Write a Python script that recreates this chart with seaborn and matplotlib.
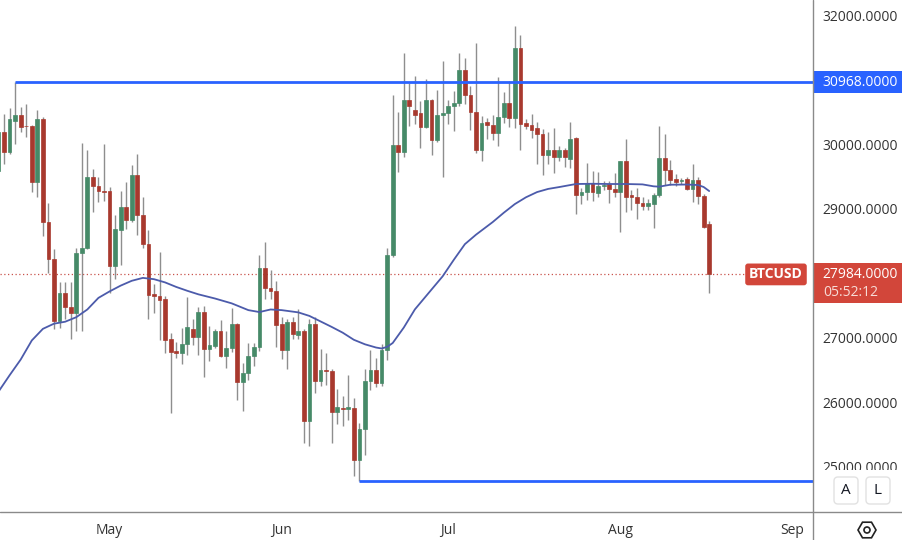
import matplotlib
matplotlib.use("Agg")
import matplotlib.pyplot as plt
import seaborn as sns
import numpy as np
import pandas as pd
from matplotlib.patches import Rectangle, FancyBboxPatch, RegularPolygon, Circle
from matplotlib.transforms import blended_transform_factory

# daily BTCUSD candles, 11 Apr - 17 Aug 2023
start = "2023-04-11"
dates = pd.date_range(start, "2023-08-17", freq="D")

opens = [29590, 30190, 29880, 30370, 30459, 30290, 30280, 29410, 30400, 28800,
         28230, 27260, 27690, 27480, 27380, 28310, 28400, 29500, 29360, 29275,
         # May
         29270, 28120, 28675, 29033, 28825, 29526, 28900, 28460, 27685, 27650,
         27600, 26980, 26800, 26760, 26900, 27145, 27015, 27400, 26820, 26870,
         27100, 26720, 26840, 27220, 26310, 26460, 26715, 26860, 28090, 27780,
         27720,
         # Jun
         27220, 26815, 27240, 27050, 27110, 25710, 27210, 26330, 26500, 26490,
         25850, 25915, 25900, 25913, 25100, 25580, 26330, 26500, 26300, 26810,
         28290, 29995, 29890, 30695, 30540, 30490, 30270, 30695, 30075, 30450,
         # Jul
         30480, 30590, 30645, 31160, 30770, 30510, 29910, 30350, 30300, 30170,
         30430, 30640, 30410, 31500, 30330, 30300, 30250, 30160, 29830, 29910,
         29810, 29910, 29780, 30100, 29215, 29260, 29400, 29245, 29350, 29385,
         29310,
         # Aug
         29260, 29740, 29215, 29190, 29095, 29040, 29075, 29215, 29790, 29600,
         29460, 29430, 29460, 29315, 29445, 29200, 28770]
highs = [30500, 30475, 30560, 30968, 30580, 30630, 30300, 30530, 30420, 29090,
         28380, 27870, 27870, 27870, 28390, 30020, 29920, 29620, 29490, 30000,
         29340, 28900, 29280, 29410, 29680, 29850, 29180, 28675, 27830, 28330,
         27650, 27080, 26940, 27160, 27640, 27285, 27480, 27490, 27180, 27140,
         27270, 27100, 27470, 27230, 26610, 26925, 26925, 28290, 28490, 28060,
         27875,
         27330, 27290, 27330, 27440, 27130, 27290, 27330, 26820, 26760, 26520,
         26210, 26100, 26430, 26070, 25680, 26520, 26810, 26680, 26900, 28390,
         30770, 30510, 31420, 30955, 31060, 30670, 31010, 30710, 30850, 31290,
         30695, 30825, 31420, 31340, 30900, 31570, 30440, 30410, 30460, 31050,
         30820, 30980, 31830, 31700, 30400, 30470, 30350, 30240, 30190, 30260,
         29970, 29940, 30350, 30112, 29330, 29710, 29590, 29570, 29440, 29440,
         29560,
         29750, 30080, 29300, 29330, 29190, 29150, 29250, 30280, 30160, 29760,
         29540, 29480, 29500, 29690, 29500, 29230, 28810]
lows = [29570, 29700, 29850, 30010, 30190, 30120, 29260, 29180, 28580, 28010,
        27140, 27150, 27300, 26975, 27100, 27100, 28380, 28950, 29100, 29120,
        27700, 27910, 28130, 28690, 28800, 28600, 28400, 27300, 27380, 26970,
        26760, 25830, 26680, 26590, 26730, 26890, 26730, 26390, 26640, 26840,
        26700, 26530, 26780, 26040, 25860, 26350, 26570, 26790, 27600, 27600,
        26860,
        26670, 26520, 26980, 26980, 25370, 25320, 26150, 26250, 26270, 25370,
        25660, 25630, 25730, 24850, 24782, 25180, 26190, 26240, 26260, 26650,
        28260, 29580, 29810, 30280, 30310, 29950, 30250, 29840, 30040, 29500,
        30310, 30210, 30600, 30630, 30220, 29860, 29740, 30080, 30070, 29970,
        30330, 30270, 30250, 29920, 30240, 30100, 29700, 29530, 29700, 29560,
        29750, 29650, 29630, 28920, 29070, 29140, 29130, 29190, 29300, 29090,
        29190,
        28640, 28950, 28990, 28840, 28990, 28990, 28700, 29180, 29370, 29370,
        29350, 29380, 29290, 29110, 29070, 28700, 27700]
closes = [30190, 29880, 30400, 30459, 30270, 30280, 29410, 30400, 28800, 28230,
          27260, 27690, 27480, 27380, 28310, 28400, 29500, 29360, 29270, 29265,
          28120, 28690, 29033, 28825, 29526, 28900, 28460, 27670, 27645, 27580,
          26970, 26775, 26760, 26900, 27170, 27015, 27400, 26820, 26890, 27100,
          26720, 26840, 27220, 26310, 26460, 26715, 26860, 28090, 27770, 27720,
          27200,
          26815, 27240, 27060, 27110, 25710, 27210, 26330, 26500, 26480, 25850,
          25920, 25900, 25920, 25100, 25580, 26330, 26500, 26300, 26810, 28290,
          29995, 29890, 30695, 30590, 30460, 30270, 30695, 30075, 30450, 30480,
          30590, 30645, 31160, 30770, 30510, 29910, 30340, 30300, 30170, 30430,
          30640, 30410, 31500, 30320, 30290, 30230, 30160, 29830, 29910, 29800,
          29910, 29800, 30090, 29215, 29265, 29400, 29260, 29350, 29370, 29310,
          29265,
          29740, 29190, 29180, 29095, 29040, 29085, 29215, 29790, 29600, 29445,
          29420, 29445, 29315, 29445, 29200, 28720, 27984]

# moving average line
ma_dates = ["2023-04-11", "2023-04-13", "2023-04-15", "2023-04-17", "2023-04-19",
            "2023-04-21", "2023-04-23", "2023-04-25", "2023-04-27", "2023-04-29",
            "2023-05-01", "2023-05-03", "2023-05-05", "2023-05-07", "2023-05-09",
            "2023-05-11", "2023-05-13", "2023-05-15", "2023-05-17", "2023-05-20",
            "2023-05-23", "2023-05-26", "2023-05-28", "2023-05-30", "2023-06-01",
            "2023-06-04", "2023-06-06", "2023-06-08", "2023-06-10", "2023-06-12",
            "2023-06-14", "2023-06-16", "2023-06-18", "2023-06-19", "2023-06-20",
            "2023-06-21", "2023-06-23", "2023-06-25", "2023-06-28", "2023-06-30",
            "2023-07-02", "2023-07-04", "2023-07-06", "2023-07-09", "2023-07-11",
            "2023-07-13", "2023-07-15", "2023-07-17", "2023-07-19", "2023-07-21",
            "2023-07-24", "2023-07-27", "2023-07-30", "2023-08-02", "2023-08-05",
            "2023-08-07", "2023-08-08", "2023-08-10", "2023-08-13", "2023-08-15",
            "2023-08-16", "2023-08-17"]
ma_values = [26166, 26420, 26664, 26960, 27140, 27220, 27250, 27320, 27440, 27620,
             27720, 27810, 27885, 27930, 27910, 27860, 27790, 27730, 27675, 27610,
             27535, 27430, 27400, 27440, 27430, 27395, 27340, 27255, 27170, 27080,
             26970, 26900, 26850, 26835, 26860, 26920, 27160, 27442, 27750, 27955,
             28210, 28453, 28600, 28795, 28940, 29075, 29180, 29261, 29310, 29339,
             29386, 29390, 29386, 29386, 29380, 29350, 29345, 29375, 29378, 29370,
             29340, 29277]

resistance, resistance_from = 30968, "2023-04-14"
support, support_from = 24782, "2023-06-15"
last_price = 27984
countdown = "05:52:12"
symbol = "BTCUSD"

price_ticks = [25000, 26000, 27000, 29000, 30000, 32000]
month_starts = ["2023-05-01", "2023-06-01", "2023-07-01", "2023-08-01", "2023-09-01"]
month_labels = ["May", "Jun", "Jul", "Aug", "Sep"]

GREEN = "#468a68"
RED = "#a8392e"
WICK = "#8e8e8e"
BLUE = "#2962ff"
MA_COL = "#4c5bab"
LABEL_RED = "#d2463a"
GRID = "#8a8a8a"

sns.set_theme(style="white")
plt.rcParams["font.family"] = ["Open Sans", "DejaVu Sans"]

t0 = pd.Timestamp(start)
def day(d):
    return (pd.Timestamp(d) - t0).days

df = pd.DataFrame({"x": (dates - t0).days, "o": opens, "h": highs, "l": lows, "c": closes})
df["up"] = df["c"] >= df["o"]
colors = np.where(df["up"], GREEN, RED)

fig = plt.figure(figsize=(9.03, 5.4), dpi=100)
W, H = 903, 540
ax = fig.add_axes([0, 28 / H, 813 / W, 512 / H])

x_left, x_right = 0.27, 146.7
y_low, y_high = 24299, 32240

# price line of the current candle
ax.hlines(last_price, x_left, 134.5, colors="#c9534c", linestyles=(0, (1, 2)), lw=0.9, zorder=1)

# candles
ax.vlines(df["x"], df["l"], df["h"], colors=WICK, lw=1, zorder=2)
body_lo = np.minimum(df["o"], df["c"])
body_h = np.maximum(np.abs(df["c"] - df["o"]), 12)
ax.bar(df["x"], body_h, bottom=body_lo, width=0.68, color=colors,
       edgecolor=colors, linewidth=0.5, zorder=3)

# moving average
ma_x = [day(d) for d in ma_dates]
sns.lineplot(x=ma_x, y=ma_values, ax=ax, color=MA_COL, linewidth=1.3, zorder=4)

# horizontal levels
ax.hlines(resistance, day(resistance_from), x_right, colors=BLUE, lw=2, zorder=5)
ax.hlines(support, day(support_from), x_right, colors=BLUE, lw=2, zorder=5)

ax.set_xlim(x_left, x_right)
ax.set_ylim(y_low, y_high)
for s in ax.spines.values():
    s.set_visible(False)
ax.grid(False)
ax.set_xlabel("")
ax.set_ylabel("")

ax.yaxis.tick_right()
ax.set_yticks(price_ticks, [f"{v:.4f}" for v in price_ticks])
ax.tick_params(axis="y", length=0, pad=7, labelsize=10, labelcolor="#333333")
ax.set_xticks([day(d) for d in month_starts], month_labels)
ax.tick_params(axis="x", length=0, pad=8, labelsize=10, labelcolor="#333333")

# price labels on the right scale
blend = blended_transform_factory(ax.transAxes, ax.transData)
upp = (y_high - y_low) / 512.0  # price per pixel
ax.add_patch(Rectangle((1.0, resistance - 11 * upp), 0.112, 22 * upp, transform=blend,
                       facecolor=BLUE, edgecolor="none", clip_on=False, zorder=6))
ax.text(1.012, resistance, f"{resistance:.4f}", transform=blend, color="white",
        fontsize=10, va="center", ha="left", zorder=7, clip_on=False)

ax.add_patch(Rectangle((1.0, last_price - 29 * upp), 0.112, 40 * upp, transform=blend,
                       facecolor=LABEL_RED, edgecolor="none", clip_on=False, zorder=6))
ax.text(1.012, last_price, f"{last_price:.4f}", transform=blend, color="white",
        fontsize=10, va="center", ha="left", zorder=7, clip_on=False)
ax.text(1.012, last_price - 18.5 * upp, countdown, transform=blend, color="#f7dcd7",
        fontsize=10, va="center", ha="left", zorder=7, clip_on=False)
ax.text(776 / 813, last_price, symbol, transform=blend, color="white", fontsize=10,
        fontweight="bold", va="center", ha="center", zorder=7,
        bbox=dict(boxstyle="round,pad=0.28,rounding_size=0.2", fc=LABEL_RED, ec="none"))

# chrome: separators, buttons, settings icon (pixel coordinates)
ui = fig.add_axes([0, 0, 1, 1], zorder=5)
ui.set_xlim(0, W)
ui.set_ylim(H, 0)
ui.axis("off")
ui.patch.set_alpha(0)
ui.add_patch(Rectangle((814, 470), 89, 41.5, facecolor="white", edgecolor="none"))
ui.plot([0, W], [512, 512], color=GRID, lw=1)
ui.plot([813, 813], [0, H], color=GRID, lw=1)
for bx, letter in [(834, "A"), (866, "L")]:
    ui.add_patch(FancyBboxPatch((bx, 477), 24, 27, boxstyle="round,pad=0,rounding_size=4",
                                facecolor="white", edgecolor="#e2e2e2", lw=1))
    ui.text(bx + 12, 491, letter, ha="center", va="center", fontsize=11, color="#131722")
ui.add_patch(RegularPolygon((867, 530), numVertices=6, radius=9, orientation=np.pi / 6,
                            fill=False, edgecolor="#222222", lw=1.2))
ui.add_patch(Circle((867, 530), 3, fill=False, edgecolor="#222222", lw=1.2))

fig.savefig("out.png", dpi=100)
